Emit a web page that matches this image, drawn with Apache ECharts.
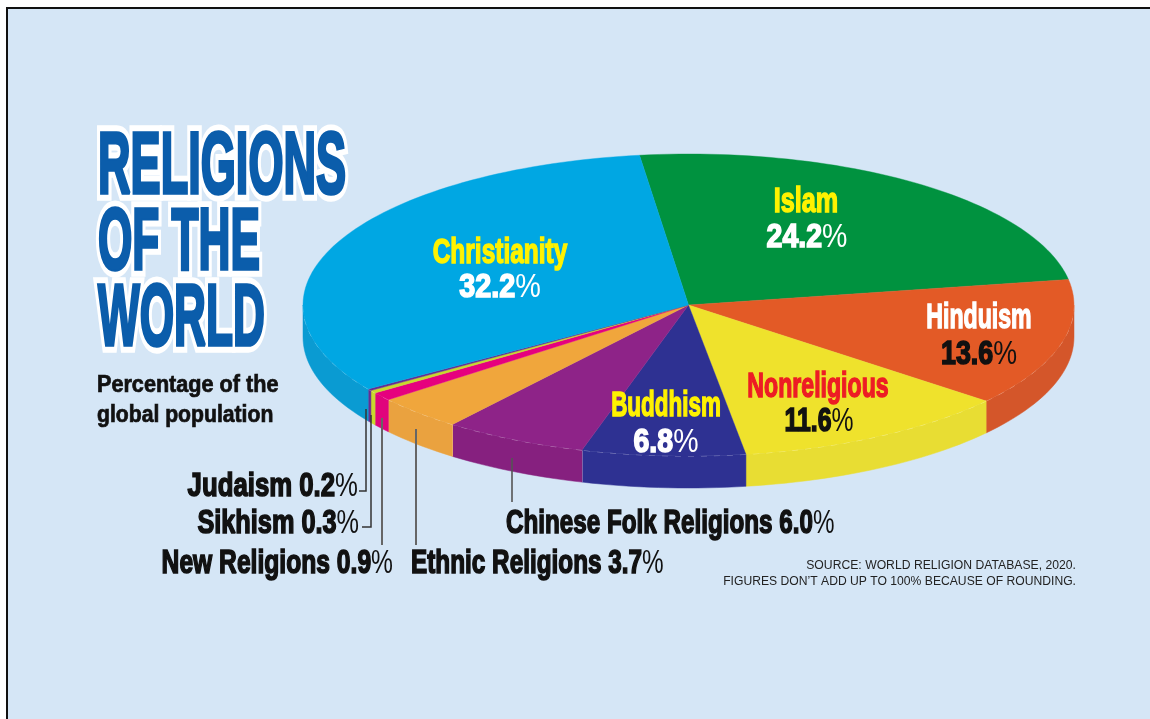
<!DOCTYPE html>
<html>
<head>
<meta charset="utf-8">
<title>Religions of the World</title>
<style>
  html, body { margin: 0; padding: 0; background: #fff; }
  #chart { width: 1150px; height: 719px; }
</style>
<script src="https://cdn.jsdelivr.net/npm/echarts@6/dist/echarts.min.js"></script>
</head>
<body>
<div id="chart"></div>
<script>
// Shares of the global population, clockwise from the Christianity/Islam boundary
const categories = ['Islam', 'Hinduism', 'Nonreligious', 'Buddhism', 'Chinese Folk Religions',
  'Ethnic Religions', 'New Religions', 'Sikhism', 'Judaism', 'Christianity'];
const shares = [24.2, 13.6, 11.6, 6.8, 6.0, 3.7, 0.9, 0.3, 0.2, 32.2];
const topColors = ['#00923f', '#e35a26', '#efe22c', '#2e3192', '#8e2388',
  '#f0a63c', '#e6007e', '#c8d92d', '#662d91', '#00a7e3'];
const wallColors = ['#00923f', '#d4562a', '#e8dd33', '#2e3192', '#86207f',
  '#eaa23f', '#e0047c', '#c8d92d', '#662d91', '#0a9bd2'];

// Tilted disc geometry
const CX = 688.5, CY = 305, RX = 385.5, RY = 151, DEPTH = 32, START_DEG = -7.3;
const total = shares.reduce((a, b) => a + b, 0);
const rad = d => d * Math.PI / 180;
const rim = (deg, dy) => [CX + RX * Math.sin(rad(deg)), CY - RY * Math.cos(rad(deg)) + (dy || 0)];
function arcPoints(from, to, dy) {
  const n = Math.max(2, Math.ceil(Math.abs(to - from) / 1.5));
  const pts = [];
  for (let k = 0; k <= n; k++) pts.push(rim(from + (to - from) * k / n, dy));
  return pts;
}
function sliceBounds(i) {
  let a = START_DEG;
  for (let k = 0; k < i; k++) a += shares[k] / total * 360;
  return [a, a + shares[i] / total * 360];
}

function renderSlice(params, api) {
  const i = params.dataIndex;
  const [a, b] = sliceBounds(i);
  const children = [];
  // Only the part of the rim between 90 and 270 degrees faces the viewer
  const from = Math.max(a, 90), to = Math.min(b, 270);
  if (to > from) {
    const upper = arcPoints(from, to, 0);
    const lower = arcPoints(to, from, DEPTH);
    children.push({ type: 'polygon', shape: { points: upper.concat(lower) },
      style: { fill: wallColors[i], stroke: wallColors[i], lineWidth: 0.5 } });
    children.push({ type: 'polyline', shape: { points: upper },
      style: { fill: null, stroke: 'rgba(255,255,255,0.55)', lineWidth: 1, lineDash: [6, 7] } });
    if (i === 3 || i === 4) {
      children.push({ type: 'line',
        shape: { x1: rim(b)[0], y1: rim(b)[1], x2: rim(b)[0], y2: rim(b, DEPTH)[1] },
        style: { stroke: 'rgba(255,255,255,0.75)', lineWidth: 1 } });
    }
  }
  const top = [[CX, CY]].concat(arcPoints(a, b, 0));
  children.push({ type: 'polygon', shape: { points: top },
    style: { fill: topColors[i], stroke: topColors[i], lineWidth: 0.4 } });
  return { type: 'group', children };
}

const FONT = '"Liberation Sans Narrow", "Liberation Sans", sans-serif';

// Heavy condensed text: the value digits are bold, the percent sign is lighter
function heavy(str, x, y, size, fill, align, sx, sy, weight) {
  return { type: 'text', x, y, scaleX: sx, scaleY: sy, z: 50, silent: true,
    style: { text: str, font: `bold ${size}px ${FONT}`, fill, align: align,
      verticalAlign: 'middle', stroke: fill, lineWidth: weight == null ? 1.4 : weight } };
}
function withPercent(label, x, y, size, fill, align, sx, sy) {
  return { type: 'text', x, y, scaleX: sx, scaleY: sy, z: 50, silent: true,
    style: { text: `{b|${label}}{p|%}`, align: align, verticalAlign: 'middle',
      rich: {
        b: { font: `bold ${size}px ${FONT}`, fill, stroke: fill, lineWidth: 1.5 },
        p: { font: `${size}px ${FONT}`, fill }
      } } };
}
const pct = i => shares[i].toFixed(1);
const idx = name => categories.indexOf(name);

// Title block with a white halo behind the blue lettering
function titleLine(str, y, sx) {
  const base = { x: 98, y, scaleX: sx, scaleY: 0.9, silent: true };
  const font = `bold 96px ${FONT}`;
  return [
    Object.assign({ type: 'text', z: 40 }, base, { style: { text: str, font, fill: '#fff', stroke: '#fff',
      lineWidth: 17, align: 'left', verticalAlign: 'middle', lineJoin: 'round' } }),
    Object.assign({ type: 'text', z: 41 }, base, { style: { text: str, font, fill: '#0b5dab', stroke: '#0b5dab',
      lineWidth: 4, align: 'left', verticalAlign: 'middle' } })
  ];
}

// Leader lines from the small slices down to their labels
function leader(points, color, width) {
  return { type: 'polyline', z: 30, silent: true, shape: { points },
    style: { fill: null, stroke: color || '#666', lineWidth: width || 2 } };
}

const graphics = [
  { type: 'rect', z: -1, silent: true, shape: { x: 7, y: 8, width: 1160, height: 730 },
    style: { fill: '#d5e6f6', stroke: '#111', lineWidth: 2 } },
  ...titleLine('RELIGIONS', 169, 0.47),
  ...titleLine('OF THE', 245, 0.46),
  ...titleLine('WORLD', 321, 0.46),
  heavy('Percentage of the', 97, 386, 23, '#111', 'left', 0.94, 1, 0.7),
  heavy('global population', 97, 416, 23, '#111', 'left', 0.92, 1, 0.7),

  leader([[366, 409], [366, 491], [359, 491]], '#333', 1.5),
  leader([[371, 415], [371, 527], [362, 527]], '#333', 1.5),
  leader([[382, 418], [382, 545]]),
  leader([[416, 429], [416, 545]]),
  leader([[512, 458], [512, 502]], '#555', 1.6),

  heavy(categories[idx('Christianity')], 500, 253, 34, '#fff200', 'center', 0.72, 1.05),
  withPercent(pct(idx('Christianity')), 500, 288, 31, '#fff', 'center', 0.93, 1.05),
  heavy(categories[idx('Islam')], 806, 202, 34, '#fff200', 'center', 0.74, 1.05),
  withPercent(pct(idx('Islam')), 807, 238, 31, '#fff', 'center', 0.92, 1.05),
  heavy(categories[idx('Hinduism')], 979, 318, 34, '#fff', 'center', 0.68, 1.05),
  withPercent(pct(idx('Hinduism')), 979, 355, 31, '#111', 'center', 0.865, 1.05),
  heavy(categories[idx('Nonreligious')], 818, 387, 34, '#ed1c24', 'center', 0.68, 1.05),
  withPercent(pct(idx('Nonreligious')), 819, 422, 31, '#111', 'center', 0.8, 1.05),
  heavy(categories[idx('Buddhism')], 666, 406, 34, '#fff200', 'center', 0.66, 1.05),
  withPercent(pct(idx('Buddhism')), 666, 443, 31, '#fff', 'center', 0.92, 1.05),

  withPercent(`Judaism ${pct(idx('Judaism'))}`, 358, 487, 32, '#111', 'right', 0.805, 1.05),
  withPercent(`Sikhism ${pct(idx('Sikhism'))}`, 359, 524, 32, '#111', 'right', 0.79, 1.05),
  withPercent(`New Religions ${pct(idx('New Religions'))}`, 393, 564, 32, '#111', 'right', 0.77, 1.05),
  withPercent(`Ethnic Religions ${pct(idx('Ethnic Religions'))}`, 411, 564, 32, '#111', 'left', 0.76, 1.05),
  withPercent(`Chinese Folk Religions ${pct(idx('Chinese Folk Religions'))}`, 506, 524, 32, '#111', 'left', 0.757, 1.05),

  { type: 'text', x: 1076, y: 566, scaleX: 0.975, z: 50, silent: true,
    style: { text: 'SOURCE: WORLD RELIGION DATABASE, 2020.', font: `12.5px ${FONT}`, fill: '#222', align: 'right', verticalAlign: 'middle' } },
  { type: 'text', x: 1076, y: 582, scaleX: 0.972, z: 50, silent: true,
    style: { text: 'FIGURES DON\u2019T ADD UP TO 100% BECAUSE OF ROUNDING.', font: `12.5px ${FONT}`, fill: '#222', align: 'right', verticalAlign: 'middle' } }
];

const chart = echarts.init(document.getElementById('chart'), null, { renderer: 'canvas' });
chart.setOption({
  animation: false,
  backgroundColor: '#ffffff',
  graphic: { elements: graphics },
  series: [{
    type: 'custom',
    coordinateSystem: 'none',
    silent: true,
    z: 10,
    data: shares.map((v, i) => ({ name: categories[i], value: v })),
    renderItem: renderSlice
  }]
});
</script>
</body>
</html>
